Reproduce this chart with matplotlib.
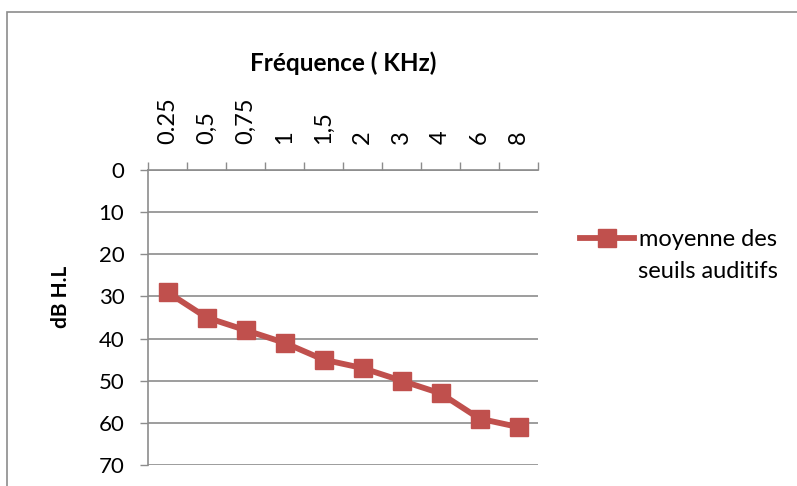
import matplotlib
matplotlib.use("Agg")
import matplotlib.pyplot as plt
from matplotlib.patches import Rectangle
import numpy as np

categories = ["0.25", "0,5", "0,75", "1", "1,5", "2", "3", "4", "6", "8"]
values = [29, 35, 38, 41, 45, 47, 50, 53, 59, 61]
yticks = [0, 10, 20, 30, 40, 50, 60, 70]
series_name = "moyenne des\nseuils auditifs"

plt.rcParams['font.family'] = ['Lato', 'DejaVu Sans']

W, H = 797, 486
fig = plt.figure(figsize=(W / 100, H / 100), dpi=100)
fig.patches.append(Rectangle((7 / W, -0.2), 1.5, 1.2 - 12 / H, transform=fig.transFigure,
                             fill=False, edgecolor="#8c8c8c", linewidth=1.2))

ax = fig.add_axes([148 / W, 1 - 465 / H, (538 - 148) / W, (465 - 170) / H])
x = np.arange(len(categories))
red = "#C0504D"
first_line, second_line = series_name.split("\n")
ax.plot(x, values, color=red, linewidth=4.2, marker="s", markersize=13,
        markerfacecolor=red, markeredgecolor=red, label=first_line)

ax.set_xlim(-0.5, len(categories) - 0.5)
ax.set_ylim(70, 0)
ax.set_yticks(yticks)
ax.set_yticklabels([str(v) for v in yticks], fontsize=16)
ax.xaxis.tick_top()
ax.xaxis.set_label_position("top")
ax.set_xticks(x)
ax.set_xticklabels(categories, rotation=90, fontsize=17)
ax.set_xticks(np.arange(len(categories) + 1) - 0.5, minor=True)
ax.tick_params(axis="x", which="major", length=0, pad=19)
ax.tick_params(axis="x", which="minor", length=6, color="#8c8c8c", width=1, top=True, bottom=False)
ax.tick_params(axis="y", length=6, color="#8c8c8c", width=1, pad=11)

for s in ["right", "bottom"]:
    ax.spines[s].set_visible(False)
for s in ["left", "top"]:
    ax.spines[s].set_color("#8c8c8c")
    ax.spines[s].set_linewidth(1.2)
ax.grid(axis="y", color="#8c8c8c", linewidth=1.2)
ax.set_axisbelow(True)

ax.set_xlabel("Fréquence ( KHz)", fontsize=17.5, fontweight="bold", labelpad=18.5)
ax.set_ylabel("dB H.L", fontsize=15, fontweight="bold")
ax.yaxis.set_label_coords(61 / W, 1 - 297 / H, transform=fig.transFigure)
ax.yaxis.label.set_va("center")

leg = ax.legend(loc="center left", bbox_to_anchor=(568 / W, 1 - 240 / H),
                bbox_transform=fig.transFigure, frameon=False, fontsize=17,
                handlelength=2.3, handletextpad=0.2, borderpad=0)
fig.text(638 / W, 1 - 272 / H, second_line, fontsize=17, va="center", ha="left")

fig.savefig("out.png", dpi=100)
